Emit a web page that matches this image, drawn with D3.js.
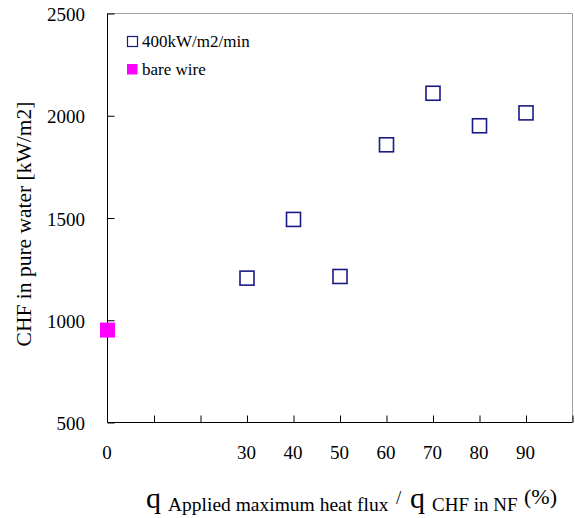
<!DOCTYPE html>
<html lang="en">
<head>
    <meta charset="UTF-8" />
    <title>CHF in pure water</title>
    <script src="https://d3js.org/d3.v7.js"></script>
    <style>
        body { margin: 0; background: white; }
        text { font-family: "Liberation Serif", "Times New Roman", serif; fill: black; }
    </style>
</head>
<body>
    <script>
        // data
        var ratios = [30, 40, 50, 60, 70, 80, 90];
        var chfValues = [1206, 1493, 1214, 1858, 2110, 1951, 2014];
        var bareRatio = [0];
        var bareValues = [952];
        var xTickValues = [10, 20, 30, 40, 50, 60, 70, 80, 90, 100];
        var xTickLabels = [0, 30, 40, 50, 60, 70, 80, 90];
        var yTickValues = [500, 1000, 1500, 2000, 2500];
        var legendNames = ["400kW/m2/min", "bare wire"];

        var w = 575;
        var h = 518;
        // note: "top" clashes with window.top, so prefix these
        var pLeft = 107.5, pRight = 572.5, pTop = 13.5, pBottom = 422.5;

        var svg = d3.select("body")
            .append("svg")
            .attr("width", w)
            .attr("height", h);

        var xScale = d3.scaleLinear()
            .domain([0, 100])
            .range([pLeft, pRight]);

        var yScale = d3.scaleLinear()
            .domain([500, 2500])
            .range([pBottom, pTop]);

        // grey top / right frame
        svg.append("line")
            .attr("x1", pLeft).attr("x2", pRight)
            .attr("y1", pTop).attr("y2", pTop)
            .attr("stroke", "#a0a0a0");
        svg.append("line")
            .attr("x1", pRight).attr("x2", pRight)
            .attr("y1", pTop).attr("y2", pBottom)
            .attr("stroke", "#a0a0a0");

        // axes, ticks pointing inward
        var xAxis = d3.axisTop(xScale)
            .tickValues(xTickValues)
            .tickSize(7)
            .tickFormat("");
        svg.append("g")
            .attr("transform", "translate(0," + pBottom + ")")
            .call(xAxis)
            .call(function (g) {
                g.select(".domain").attr("d", "M" + pLeft + ",0H" + pRight);
                g.selectAll("line").attr("stroke", "black");
            });

        var yAxis = d3.axisRight(yScale)
            .tickValues(yTickValues)
            .tickSize(7)
            .tickFormat("");
        svg.append("g")
            .attr("transform", "translate(" + pLeft + ",0)")
            .call(yAxis)
            .call(function (g) {
                g.select(".domain").attr("d", "M0," + pTop + "V" + pBottom);
                g.selectAll("line").attr("stroke", "black");
            });

        // tick labels
        svg.selectAll(".xlab")
            .data(xTickLabels)
            .enter()
            .append("text")
            .attr("class", "xlab")
            .attr("x", function (d) { return xScale(d) - 0.5; })
            .attr("y", 459)
            .attr("text-anchor", "middle")
            .style("font-size", "19px")
            .text(function (d) { return d; });

        svg.selectAll(".ylab")
            .data(yTickValues)
            .enter()
            .append("text")
            .attr("class", "ylab")
            .attr("x", 85)
            .attr("y", function (d) { return yScale(d) + 7.5; })
            .attr("text-anchor", "end")
            .style("font-size", "19px")
            .text(function (d) { return d; });

        // points
        var size = 14;
        svg.selectAll(".pt")
            .data(ratios)
            .enter()
            .append("rect")
            .attr("class", "pt")
            .attr("x", function (d) { return xScale(d) - size / 2; })
            .attr("y", function (d, i) { return yScale(chfValues[i]) - size / 2; })
            .attr("width", size)
            .attr("height", size)
            .attr("fill", "white")
            .attr("stroke", "#1a1a86")
            .attr("stroke-width", 1.6);

        var bsize = 15;
        svg.selectAll(".bare")
            .data(bareRatio)
            .enter()
            .append("rect")
            .attr("class", "bare")
            .attr("x", function (d) { return xScale(d) - bsize / 2; })
            .attr("y", function (d, i) { return yScale(bareValues[i]) - bsize / 2; })
            .attr("width", bsize)
            .attr("height", bsize)
            .attr("fill", "#ff00ff");

        // legend
        var legend = svg.append("g");
        legend.append("rect")
            .attr("x", 127.5).attr("y", 36.5)
            .attr("width", 10).attr("height", 10)
            .attr("fill", "white")
            .attr("stroke", "#1a1a86")
            .attr("stroke-width", 1.2);
        legend.append("rect")
            .attr("x", 127).attr("y", 64)
            .attr("width", 10.5).attr("height", 10.5)
            .attr("fill", "#ff00ff");
        legend.selectAll("text")
            .data(legendNames)
            .enter()
            .append("text")
            .attr("x", 142)
            .attr("y", function (d, i) { return 47 + i * 28; })
            .style("font-size", "17px")
            .text(function (d) { return d; });

        // y axis title
        svg.append("text")
            .attr("transform", "translate(31,224) rotate(-90)")
            .attr("text-anchor", "middle")
            .style("font-size", "21.5px")
            .text("CHF in pure water [kW/m2]");

        // x axis title: q_applied / q_CHF (%)
        var xt = svg.append("g");
        xt.append("text").attr("x", 146).attr("y", 508)
            .style("font-size", "30px").text("q");
        xt.append("text").attr("x", 168).attr("y", 510.5)
            .style("font-size", "19.5px").text("Applied maximum heat flux");
        xt.append("text").attr("x", 396).attr("y", 504)
            .style("font-size", "19px").text("/");
        xt.append("text").attr("x", 410).attr("y", 508)
            .style("font-size", "30px").text("q");
        xt.append("text").attr("x", 432).attr("y", 510.5)
            .style("font-size", "19px").text("CHF in NF");
        xt.append("text").attr("x", 524).attr("y", 504)
            .style("font-size", "22px").text("(%)");
    </script>
</body>
</html>
